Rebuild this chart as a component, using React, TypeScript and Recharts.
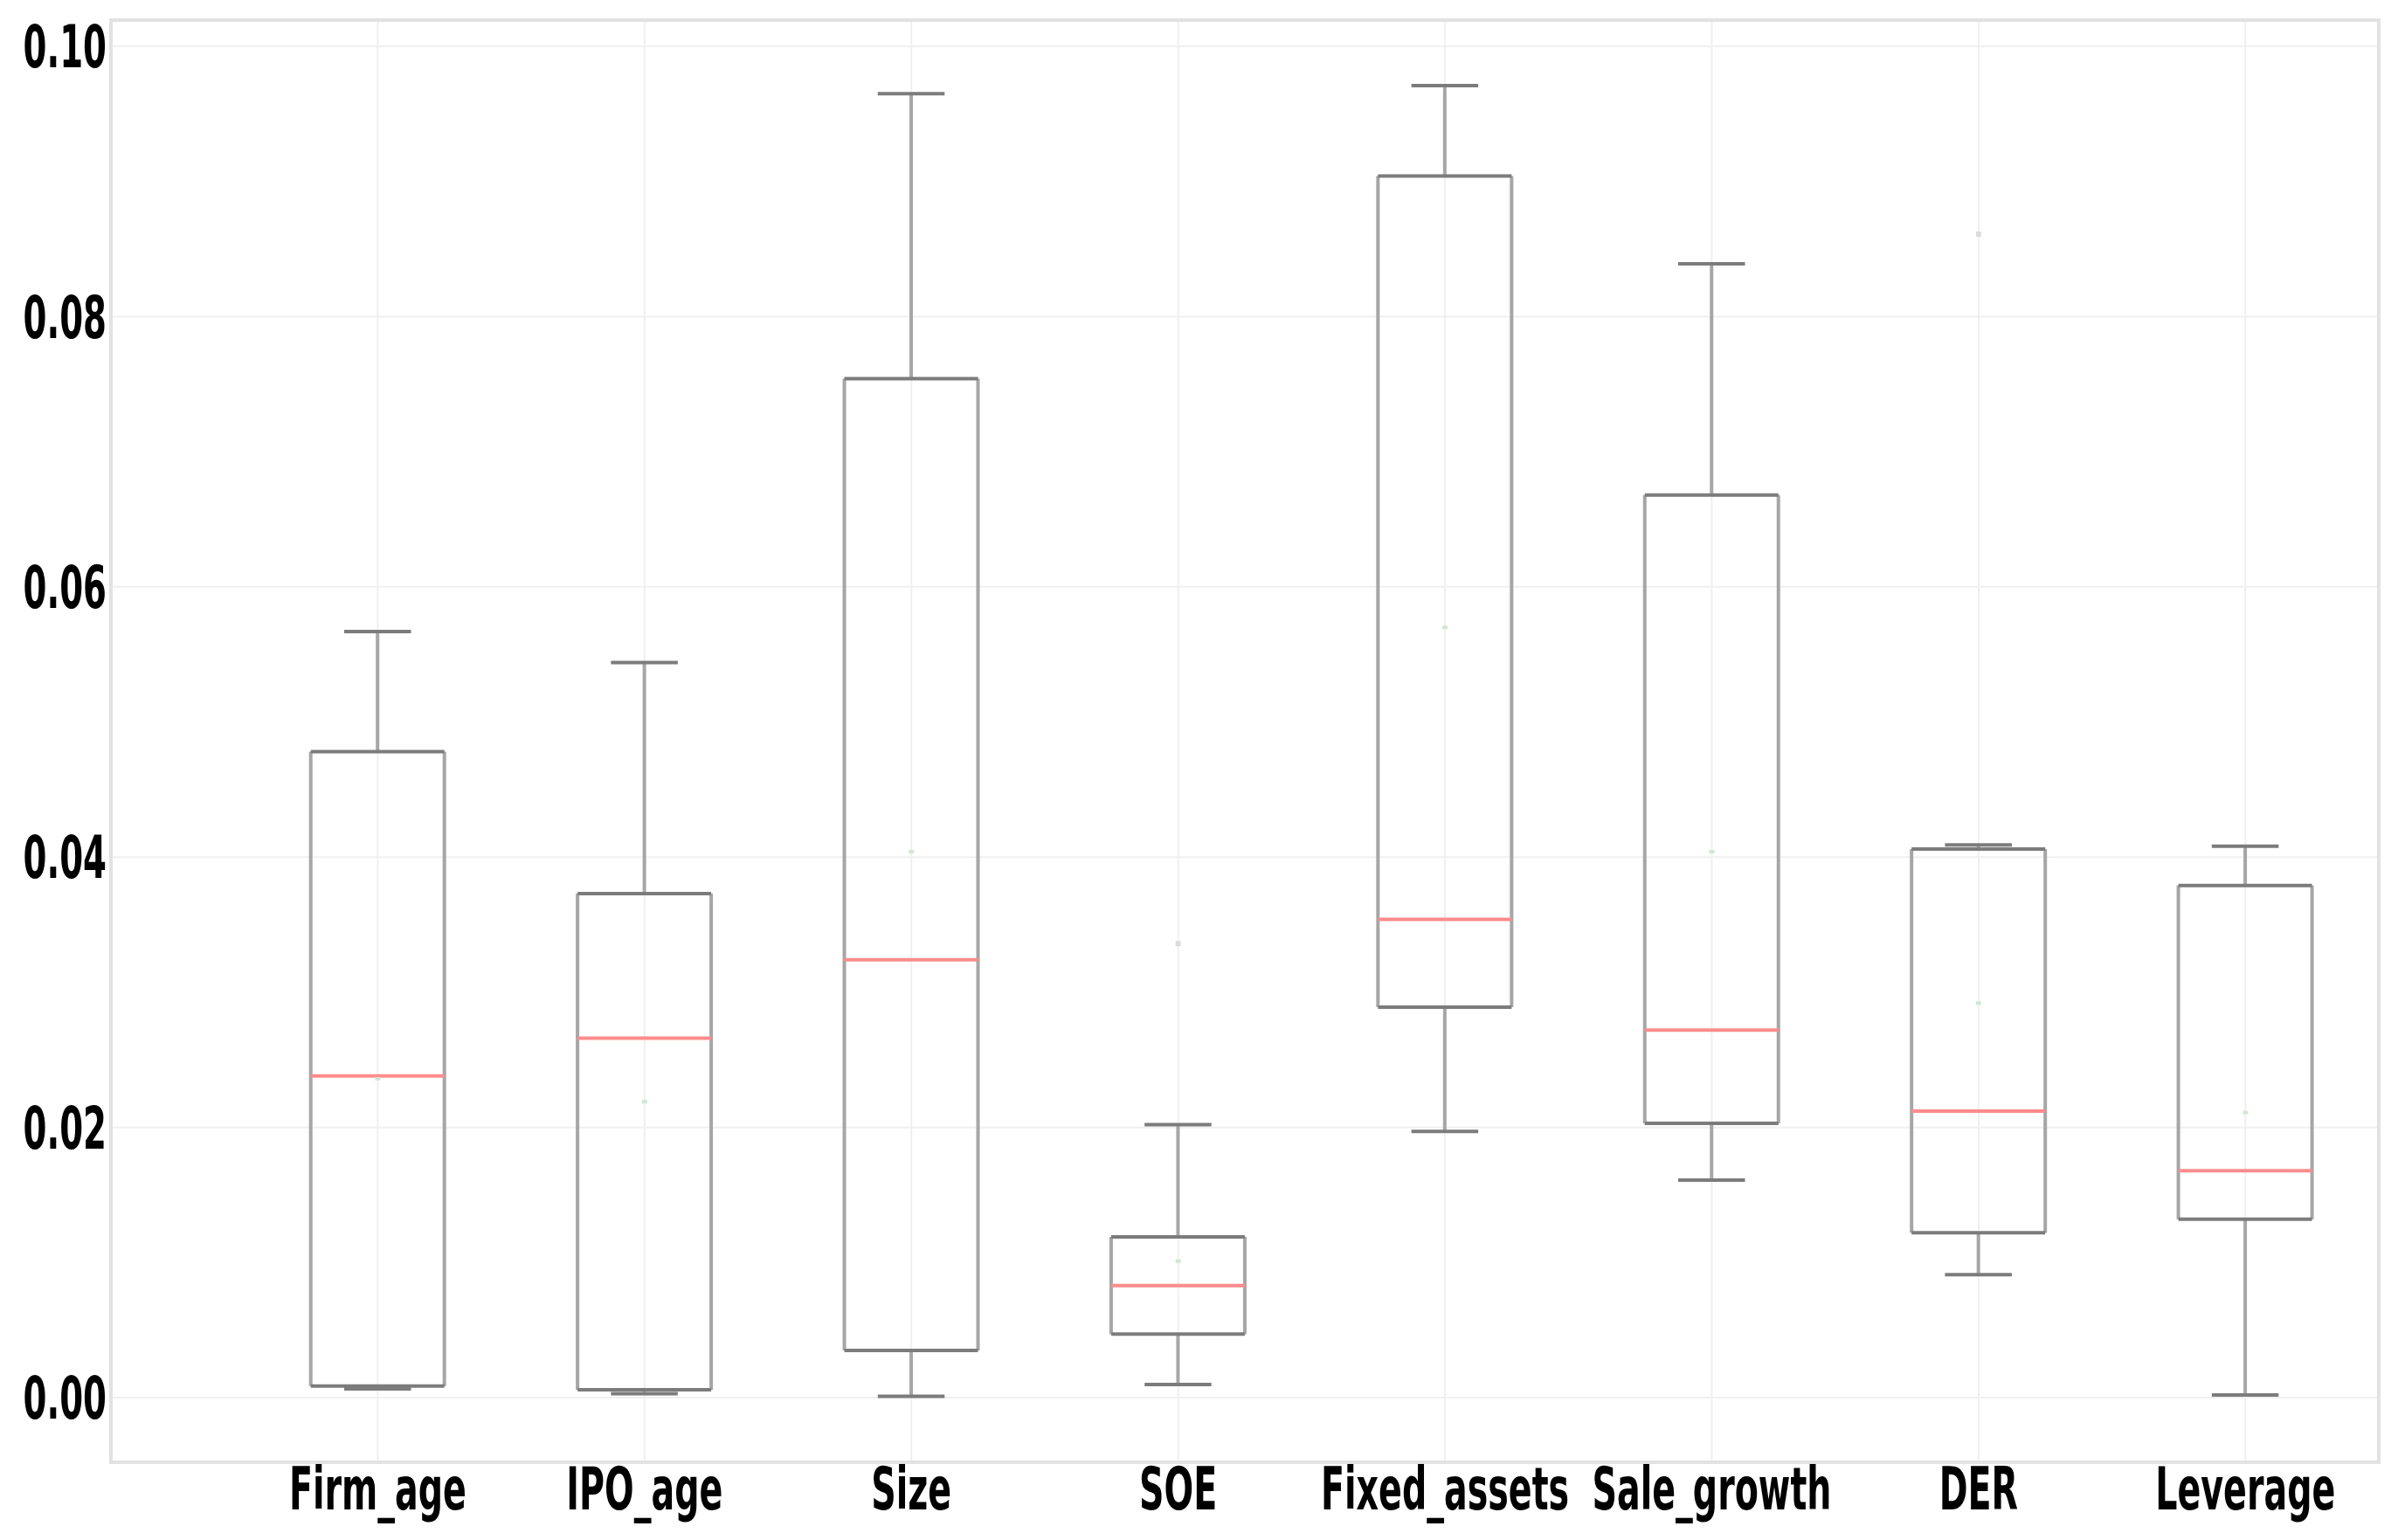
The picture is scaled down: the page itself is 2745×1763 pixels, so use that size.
import React from "react";
import {
  ComposedChart,
  Bar,
  Scatter,
  XAxis,
  YAxis,
  CartesianGrid,
  ReferenceArea,
} from "recharts";

// values
const categories = ["Firm_age", "IPO_age", "Size", "SOE", "Fixed_assets", "Sale_growth", "DER", "Leverage"];
const whiskerLow = [0.00065, 0.0003, 0.0001, 0.00097, 0.0197, 0.0161, 0.0091, 0.0002];
const q1 = [0.00086, 0.00058, 0.0035, 0.0047, 0.0289, 0.0203, 0.0122, 0.0132];
const median = [0.0238, 0.0266, 0.0324, 0.0083, 0.0354, 0.0272, 0.0212, 0.0168];
const q3 = [0.0478, 0.0373, 0.0754, 0.0119, 0.0904, 0.0668, 0.0406, 0.0379];
const whiskerHigh = [0.0567, 0.0544, 0.0965, 0.0202, 0.0971, 0.0839, 0.0409, 0.0408];
const means = [0.0236, 0.0219, 0.0404, 0.0101, 0.057, 0.0404, 0.0292, 0.0211];
const fliers = [
  { pos: 4, value: 0.0336 },
  { pos: 7, value: 0.0861 },
];
const yTicks = [0, 0.02, 0.04, 0.06, 0.08, 0.1];

const Y_MIN = -0.00478;
const Y_MAX = 0.10194;
const X_MAX = 8.5;

const boxes = categories.map((name, i) => ({
  pos: i + 1,
  name,
  range: [whiskerLow[i], whiskerHigh[i]],
  low: whiskerLow[i],
  q1: q1[i],
  median: median[i],
  q3: q3[i],
  high: whiskerHigh[i],
}));

const meanPoints = categories.map((_, i) => ({ pos: i + 1, value: means[i] }));

const font = {
  fontFamily: "'DejaVu Sans Condensed', 'DejaVu Sans', sans-serif",
  fontStretch: "condensed",
  fontWeight: "bold",
  fontSize: 44,
  fill: "#000",
};

const YTick = ({ x, y, payload }: any) => (
  <g transform={`translate(${x + 3},${y})`}>
    <text textAnchor="end" transform="scale(1,1.56)" dy="0.36em" style={{ ...font, fontSize: 43 }}>
      {Number(payload.value).toFixed(2)}
    </text>
  </g>
);

const XTick = ({ x, y, payload }: any) => (
  <g transform={`translate(${x},${y})`}>
    <text textAnchor="middle" transform="scale(1,1.55)" y={29.7} style={font}>
      {categories[payload.value - 1]}
    </text>
  </g>
);

const BoxShape = (props: any) => {
  const { x, y, width, height, payload } = props;
  const top = Math.min(y, y + height);
  const bottom = Math.max(y, y + height);
  const { low, high } = payload;
  const toPx = (v: number) => top + ((bottom - top) * (high - v)) / (high - low);
  const cx = x + width / 2;
  const cap = width / 4;
  const yQ3 = toPx(payload.q3);
  const yQ1 = toPx(payload.q1);
  const yMed = toPx(payload.median);
  const vert = "#a6a6a6";
  const horiz = "#7c7c7c";
  return (
    <g>
      <line x1={cx} x2={cx} y1={toPx(high)} y2={yQ3} stroke={vert} strokeWidth={4} />
      <line x1={cx} x2={cx} y1={yQ1} y2={toPx(low)} stroke={vert} strokeWidth={4} />
      <line x1={cx - cap} x2={cx + cap} y1={toPx(high)} y2={toPx(high)} stroke={horiz} strokeWidth={4} />
      <line x1={cx - cap} x2={cx + cap} y1={toPx(low)} y2={toPx(low)} stroke={horiz} strokeWidth={4} />
      <line x1={x} x2={x} y1={yQ3} y2={yQ1} stroke={vert} strokeWidth={4} />
      <line x1={x + width} x2={x + width} y1={yQ3} y2={yQ1} stroke={vert} strokeWidth={4} />
      <line x1={x} x2={x + width} y1={yQ3} y2={yQ3} stroke={horiz} strokeWidth={4} />
      <line x1={x} x2={x + width} y1={yQ1} y2={yQ1} stroke={horiz} strokeWidth={4} />
      <line x1={x} x2={x + width} y1={yMed} y2={yMed} stroke="#ff8c8c" strokeWidth={4} />
    </g>
  );
};

const MeanDot = ({ cx, cy }: any) => <rect x={cx - 3} y={cy - 2} width={6} height={4} fill="#cfe9cf" />;
const FlierDot = ({ cx, cy }: any) => <rect x={cx - 3} y={cy - 3} width={6} height={6} fill="#dcdcdc" />;

export default function App() {
  return (
    <div style={{ width: 2745, height: 1763, background: "#fff" }}>
      <style>{`body{margin:0}`}</style>
      <ComposedChart
        width={2745}
        height={1763}
        data={boxes}
        margin={{ top: 23, right: 22, bottom: 0, left: 0 }}
        barGap={0}
      >
        <CartesianGrid stroke="#f0f0f0" strokeWidth={2} />
        <XAxis
          dataKey="pos"
          type="number"
          domain={[0, X_MAX]}
          ticks={[1, 2, 3, 4, 5, 6, 7, 8]}
          allowDataOverflow
          height={89}
          axisLine={false}
          tickLine={false}
          tick={<XTick />}
          interval={0}
        />
        <YAxis
          type="number"
          domain={[Y_MIN, Y_MAX]}
          ticks={yTicks}
          allowDataOverflow
          width={127}
          axisLine={false}
          tickLine={false}
          tick={<YTick />}
          interval={0}
        />
        <ReferenceArea
          x1={0}
          x2={X_MAX}
          y1={Y_MIN}
          y2={Y_MAX}
          fill="none"
          stroke="#e2e2e2"
          strokeWidth={4}
          ifOverflow="visible"
        />
        <Bar dataKey="range" barSize={153} shape={<BoxShape />} isAnimationActive={false} />
        <Scatter data={meanPoints} dataKey="value" shape={<MeanDot />} isAnimationActive={false} />
        <Scatter data={fliers} dataKey="value" shape={<FlierDot />} isAnimationActive={false} />
      </ComposedChart>
    </div>
  );
}
